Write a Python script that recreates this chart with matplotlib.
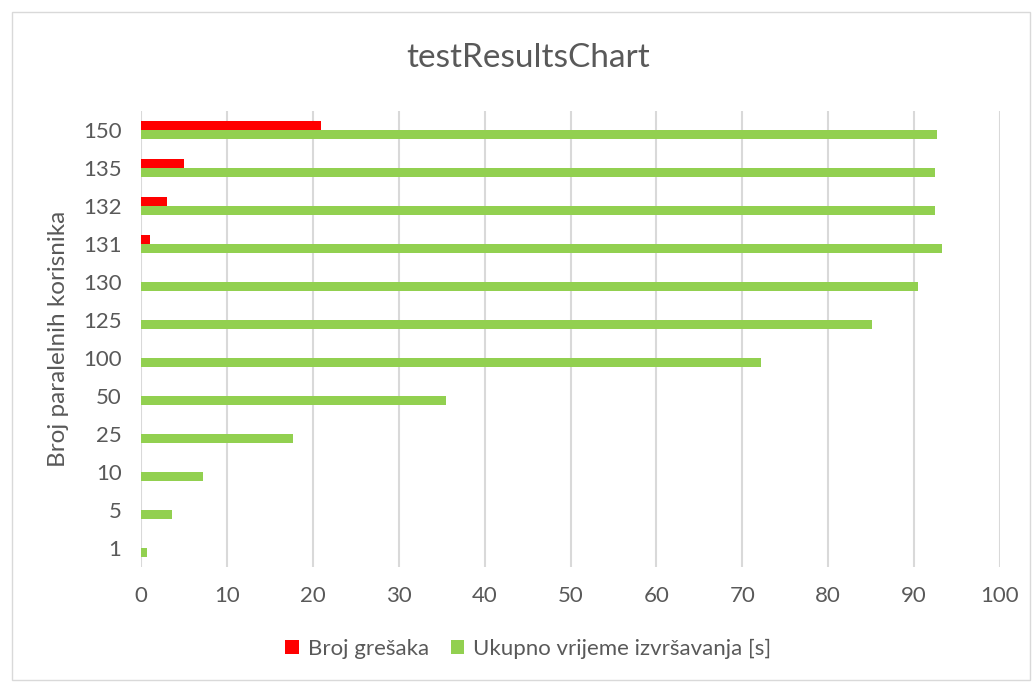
import matplotlib.pyplot as plt
import numpy as np

plt.rcParams['font.family'] = ['Lato', 'DejaVu Sans']

korisnici = ['1', '5', '10', '25', '50', '100', '125', '130', '131', '132', '135', '150']
greske = [0, 0, 0, 0, 0, 0, 0, 0, 1, 3, 5, 21]
vrijeme = [0.75, 3.6, 7.2, 17.7, 35.5, 72.2, 85.1, 90.5, 93.2, 92.4, 92.4, 92.7]

gray = '#595959'
y = np.arange(len(korisnici))
h = 0.24

fig = plt.figure(figsize=(10.36, 6.82), dpi=100)
ax = fig.add_axes([141/1036, 1-567/682, (1000-141)/1036, (567-111)/682])

ax.barh(y + h/2, greske, height=h, color='#ff0000', label='Broj grešaka', zorder=3)
ax.barh(y - h/2, vrijeme, height=h, color='#92d050', label='Ukupno vrijeme izvršavanja [s]', zorder=3)

ax.set_xlim(0, 100)
ax.set_ylim(-0.5, len(korisnici) - 0.5)
ax.set_xticks(range(0, 101, 10))
ax.set_yticks(y)
ax.set_yticklabels(korisnici)
ax.tick_params(length=0, labelsize=16, colors=gray, pad=14)
ax.tick_params(axis='x', pad=14)
ax.grid(axis='x', color='#d9d9d9', linewidth=1.5, zorder=0)
for s in ax.spines.values():
    s.set_visible(False)

ax.set_ylabel('Broj paralelnih korisnika', fontsize=17.5, color=gray, labelpad=10)
fig.text(0.51, 1-58/682, 'testResultsChart', ha='center', va='center', fontsize=24, color=gray)

fig.legend(loc='center', bbox_to_anchor=(0.51, 1-649/682), ncol=2, frameon=False,
           fontsize=16, labelcolor=gray, handlelength=0.6, handleheight=0.6,
           columnspacing=1.0, handletextpad=0.4)

# okvir grafikona
fig.patches.append(plt.Rectangle((12/1036, 2/682), 1018/1036, 668/682, transform=fig.transFigure,
                                 fill=False, edgecolor='#d9d9d9', linewidth=1))

fig.savefig('out.png', dpi=100)
